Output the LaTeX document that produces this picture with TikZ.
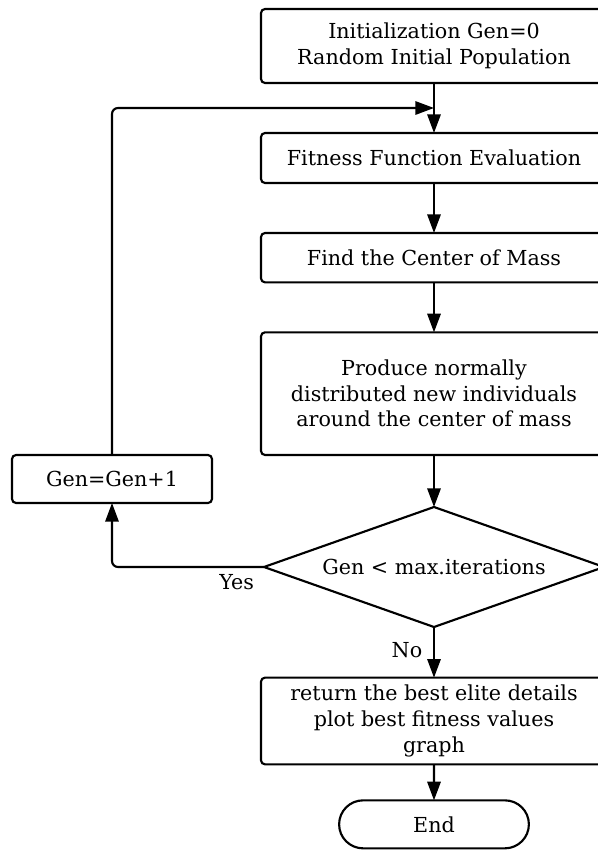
\documentclass[tikz,border=0pt]{standalone}
\usepackage{fontspec}
\setmainfont{DejaVu Serif}
\usetikzlibrary{
  shapes.geometric,
  shapes.misc,
  positioning,
  arrows.meta
}

\begin{document}
\begin{tikzpicture}[
  x=0.75pt, y=-0.75pt,
  font=\fontsize{15.5}{19.2}\selectfont,
  >={Triangle[length=14pt,width=10pt]},
  process/.style={
    rectangle,
    rounded corners=3pt,
    draw=black,
    line width=1.6pt,
    fill=white,
    minimum width=259.5pt,
    align=center,
    inner sep=0pt,
    outer sep=0pt
  },
  decision/.style={
    diamond,
    aspect=2.83,
    draw=black,
    line width=1.6pt,
    fill=white,
    inner sep=0pt,
    outer sep=0pt,
    minimum width=255pt,
    minimum height=90pt
  },
  terminal/.style={
    rounded rectangle,
    draw=black,
    line width=1.6pt,
    fill=white,
    outer sep=0pt,
    minimum width=149pt,
    minimum height=36pt
  },
  flow/.style={
    ->,
    line width=1.6pt,
    rounded corners=4.5pt
  },
  branch/.style={
    inner sep=2pt
  }
]

% ------------------------------------------------------------------
% Canvas (right side cut off as in the source)
% ------------------------------------------------------------------
\useasboundingbox (0,0) rectangle (598,850);
\clip (0,0) rectangle (598,850);
\fill[white] (0,0) rectangle (598,850);

% ------------------------------------------------------------------
% Main column
% ------------------------------------------------------------------
\node[process, minimum height=55.5pt] (init) at (434,46)
  {Initialization Gen=0\\ Random Initial Population};
\node[process, minimum height=37.5pt, below=37.5pt of init] (fitness)
  {Fitness Function Evaluation};
\node[process, minimum height=37pt, below=37.5pt of fitness] (center)
  {Find the Center of Mass};
\node[process, minimum height=92pt, below=37.5pt of center] (produce)
  {Produce normally\\ distributed new individuals\\ around the center of mass};
\node[decision, below=39pt of produce] (check)
  {Gen < max.iterations};
\node[process, minimum height=65pt, below=38pt of check] (result)
  {return the best elite details\\ plot best fitness values\\ graph};
\node[terminal, below=27pt of result] (finish) {End};

% ------------------------------------------------------------------
% Loop back
% ------------------------------------------------------------------
\node[process, minimum width=150pt, minimum height=36pt] (incr) at (112,479)
  {Gen=Gen+1};
\coordinate (merge) at (init.south |- 0,108);

% ------------------------------------------------------------------
% Connectors
% ------------------------------------------------------------------
\draw[flow] (init) -- (fitness);
\draw[flow] (fitness) -- (center);
\draw[flow] (center) -- (produce);
\draw[flow] (produce) -- (check);
\draw[flow] (check.west) -| node[branch, pos=0.09, below=3pt] {Yes} (incr.south);
\draw[flow] (incr.north) |- (merge);
\draw[flow] (check.south) -- node[branch, left=6pt, pos=0.45] {No} (result);
\draw[flow] (result) -- (finish);

\end{tikzpicture}
\end{document}
